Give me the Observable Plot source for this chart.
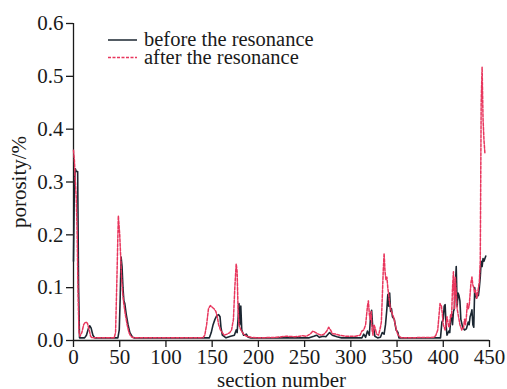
<!DOCTYPE html>
<html>
<head>
<meta charset="utf-8">
<script src="https://cdn.jsdelivr.net/npm/d3@7"></script>
<script src="https://cdn.jsdelivr.net/npm/@observablehq/plot@0.6"></script>
<style>
  html, body { margin: 0; padding: 0; background: #fff; }
  #wrap { position: relative; width: 507px; height: 389px; overflow: hidden; }
  #legend { position: absolute; left: 0; top: 0; }
  #wrap svg, #wrap svg text { font-family: "Liberation Serif", "Times New Roman", serif !important; }
</style>
</head>
<body>
<div id="wrap"></div>
<script>
// ---- data ----
const seriesNames = ["before the resonance", "after the resonance"];
const seriesColors = ["#1b2631", "#e8365d"];
const xTicks = [0, 50, 100, 150, 200, 250, 300, 350, 400, 450];
const yTicks = [0, 0.1, 0.2, 0.3, 0.4, 0.5, 0.6];

// [section number, porosity/%]
const beforePoints = [
  [0,0.15],[1,0.3],[2,0.325],[3,0.32],[4.5,0.32],[5.5,0.1],[6.5,0.005],[12,0.005],[14,0.01],[16,0.022],
  [17.5,0.028],[19,0.024],[21,0.01],[23,0.005],[48,0.005],[49.5,0.02],[50.5,0.08],[51.5,0.158],[52.5,0.14],
  [53.5,0.1],[54.5,0.075],[55.5,0.07],[57,0.05],[59,0.03],[61,0.015],[64,0.006],[66,0.005],[147,0.005],
  [149,0.015],[151,0.03],[153,0.04],[155,0.047],[157,0.049],[158.5,0.045],[159.5,0.025],[161,0.01],[165,0.005],
  [170,0.008],[174,0.01],[176,0.02],[177,0.015],[178,0.04],[179,0.07],[180,0.03],[181,0.065],[182,0.02],
  [184,0.01],[187,0.012],[189,0.006],[192,0.005],[255,0.005],[260,0.008],[263,0.01],[266,0.006],[270,0.008],
  [273,0.007],[277,0.015],[280,0.01],[285,0.007],[290,0.005],[312,0.005],[314,0.012],[316,0.006],[318,0.018],
  [320,0.01],[321.5,0.05],[322.5,0.057],[323.5,0.03],[325,0.02],[326,0.008],[329,0.005],[332,0.006],[334,0.015],
  [336,0.012],[337.5,0.03],[339,0.06],[340,0.087],[341,0.065],[342,0.09],[343,0.055],[344,0.06],[345,0.045],
  [347,0.04],[349,0.02],[351,0.015],[352,0.005],[397,0.005],[398.5,0.035],[400,0.04],[401,0.065],[402,0.068],
  [403,0.03],[404,0.01],[406,0.018],[407,0.015],[408,0.04],[409,0.05],[410,0.03],[411,0.055],[412,0.06],
  [413,0.1],[414,0.14],[415,0.065],[416,0.09],[417,0.085],[418,0.075],[419,0.04],[421,0.025],[423,0.02],
  [425,0.022],[427,0.035],[428,0.03],[429,0.045],[430,0.05],[431,0.058],[432,0.03],[433,0.025],[434,0.1],
  [435,0.085],[436,0.08],[437,0.09],[438,0.085],[439,0.1],[440,0.12],[441,0.15],[442,0.14],[443,0.155],
  [444,0.15],[446,0.16]
];

const afterPoints = [
  [0,0.36],[1,0.34],[2,0.3],[3,0.27],[4,0.2],[5,0.08],[6,0.015],[7,0.008],[9,0.015],[11,0.03],[13,0.035],
  [15,0.033],[17,0.02],[18.5,0.008],[20,0.005],[44,0.005],[45.5,0.015],[47,0.12],[48.5,0.236],[50,0.2],
  [51,0.16],[52,0.12],[53,0.095],[54,0.075],[56,0.05],[58,0.03],[60,0.015],[62,0.008],[65,0.005],[140,0.005],
  [142,0.01],[144,0.03],[146,0.06],[148,0.066],[150,0.063],[152,0.06],[154,0.055],[155.5,0.045],[157,0.03],
  [159,0.02],[161,0.015],[163,0.01],[166,0.012],[169,0.015],[171,0.02],[173,0.04],[174.5,0.1],[176,0.145],
  [177,0.13],[178,0.06],[179,0.03],[181,0.02],[184,0.012],[187,0.008],[192,0.006],[200,0.005],[220,0.006],
  [230,0.008],[240,0.007],[248,0.009],[252,0.008],[256,0.012],[259,0.018],[262,0.015],[265,0.012],[268,0.01],
  [271,0.012],[274,0.018],[276,0.025],[278,0.02],[280,0.013],[284,0.012],[288,0.01],[295,0.008],[305,0.008],
  [310,0.01],[312,0.018],[314,0.02],[316,0.03],[318,0.065],[319,0.075],[320,0.05],[321,0.04],[322,0.055],
  [323,0.02],[324,0.01],[325,0.03],[326,0.025],[328,0.012],[330,0.01],[332,0.025],[333,0.035],[334,0.08],
  [335,0.13],[336,0.165],[337,0.13],[338,0.115],[339,0.12],[340,0.1],[341,0.085],[342,0.07],[343,0.06],
  [344,0.055],[345,0.05],[347,0.04],[348,0.03],[350,0.015],[352,0.008],[355,0.005],[390,0.006],[392,0.01],
  [394,0.02],[395,0.04],[396.5,0.07],[398,0.065],[399,0.05],[400,0.03],[401,0.025],[402,0.02],[403,0.03],
  [404,0.045],[405,0.035],[406,0.025],[407,0.03],[408,0.05],[409,0.045],[410,0.1],[411,0.13],[412,0.06],
  [413,0.12],[414,0.09],[415,0.06],[416,0.05],[417,0.04],[418,0.03],[420,0.02],[422,0.025],[423,0.04],
  [424,0.03],[425,0.045],[426,0.07],[427,0.06],[428,0.065],[430,0.11],[431,0.12],[432,0.105],[433,0.1],
  [434,0.09],[435,0.095],[436,0.08],[437,0.085],[438,0.1],[439,0.11],[440,0.15],[440.5,0.3],[441,0.45],
  [442,0.517],[443,0.42],[444,0.38],[445,0.355]
];

const font = `"Liberation Serif", "Times New Roman", serif`;

const chart = Plot.plot({
  width: 507,
  height: 389,
  marginLeft: 73,
  marginRight: 18,
  marginTop: 23,
  marginBottom: 49,
  style: { fontFamily: font, fontSize: "20px", color: "#1a1a1a", background: "#fff" },
  x: { domain: [0, 450] },
  y: { domain: [0, 0.6] },
  marks: [
    Plot.axisX({ ticks: xTicks, tickSize: 7, tickPadding: 2, tickFormat: d3.format("d"),
      label: "section number", labelAnchor: "center", labelArrow: "none", labelOffset: 46,
      fontSize: 21, fontFamily: font, stroke: "#1a1a1a", strokeWidth: 1.3 }),
    Plot.axisY({ ticks: yTicks, tickSize: 7, tickPadding: 3, tickFormat: d3.format(".1f"),
      label: "porosity/%", labelAnchor: "center", labelArrow: "none", labelOffset: 62,
      fontSize: 21, fontFamily: font, stroke: "#1a1a1a", strokeWidth: 1.3 }),
    Plot.ruleY([0], { stroke: "#1a1a1a", strokeWidth: 1.3 }),
    Plot.ruleX([0], { stroke: "#1a1a1a", strokeWidth: 1.3 }),
    Plot.line(beforePoints, { x: d => d[0], y: d => d[1], stroke: seriesColors[0], strokeWidth: 1.6 }),
    Plot.line(afterPoints, { x: d => d[0], y: d => d[1], stroke: seriesColors[1], strokeWidth: 1.5,
      strokeDasharray: "3,1.5" })
  ]
});

const wrap = document.getElementById("wrap");
wrap.appendChild(chart);

// legend overlay (inside the plot area, top-left)
const ns = "http://www.w3.org/2000/svg";
const leg = document.createElementNS(ns, "svg");
leg.setAttribute("id", "legend");
leg.setAttribute("width", 330);
leg.setAttribute("height", 75);
seriesNames.forEach((name, i) => {
  const y = 40 + i * 17.5;
  const line = document.createElementNS(ns, "line");
  line.setAttribute("x1", 108); line.setAttribute("x2", 137);
  line.setAttribute("y1", y); line.setAttribute("y2", y);
  line.setAttribute("stroke", seriesColors[i]);
  line.setAttribute("stroke-width", i === 0 ? 1.5 : 1.5);
  if (i === 1) line.setAttribute("stroke-dasharray", "3,1.5");
  leg.appendChild(line);
  const t = document.createElementNS(ns, "text");
  t.setAttribute("x", 144); t.setAttribute("y", y + 6);
  t.setAttribute("font-size", 20.5);
  t.setAttribute("fill", "#1a1a1a");
  t.textContent = name;
  leg.appendChild(t);
});
wrap.appendChild(leg);
</script>
</body>
</html>
